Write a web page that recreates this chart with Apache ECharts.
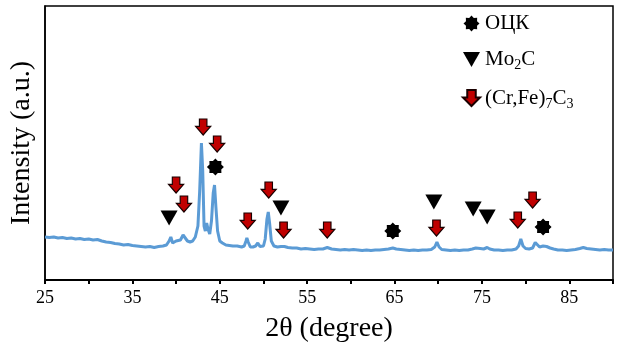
<!DOCTYPE html>
<html><head><meta charset="utf-8">
<script src="https://cdn.jsdelivr.net/npm/echarts@6/dist/echarts.min.js"></script>
<style>html,body{margin:0;padding:0;background:#fff}#c{width:619px;height:356px}</style>
</head><body><div id="c"></div>
<script>
// XRD pattern (2θ in degrees, intensity in arbitrary units)
const twoTheta = [25.0,25.5,26.0,26.5,27.0,27.5,28.0,28.5,29.0,29.5,30.0,30.5,31.0,31.5,32.0,32.5,33.0,33.5,34.0,34.5,35.0,35.5,36.0,36.5,37.0,37.5,38.0,38.5,38.9,39.2,39.4,39.6,39.8,40.0,40.2,40.5,40.8,41.0,41.3,41.6,41.9,42.2,42.5,42.7,42.9,43.05,43.2,43.35,43.5,43.65,43.85,44.05,44.25,44.4,44.55,44.75,45.0,45.3,45.7,46.1,46.5,47.0,47.5,47.8,48.0,48.1,48.25,48.5,48.8,49.1,49.35,49.6,50.0,50.2,50.4,50.55,50.7,50.9,51.2,51.6,52.0,52.2,52.4,52.8,53.3,53.8,54.3,54.8,55.3,55.8,56.3,56.8,57.3,57.8,58.3,58.8,59.3,59.8,60.3,60.8,61.3,61.8,62.3,62.8,63.3,63.8,64.3,64.8,65.2,65.7,66.2,66.7,67.2,67.7,68.2,68.7,69.2,69.6,69.85,70.1,70.4,70.9,71.4,71.9,72.4,72.9,73.4,73.9,74.3,74.5,74.8,75.2,75.6,75.9,76.4,76.9,77.4,77.9,78.4,78.9,79.2,79.45,79.7,80.0,80.4,80.8,81.1,81.3,81.6,82.0,82.4,82.8,83.2,83.7,84.2,84.7,85.2,85.7,86.2,86.6,87.0,87.5,88.0,88.5,89.0,89.5,90.0];
const intensity = [44,43.5,44,43,43.5,42.5,43,42,42.5,41.5,42,41,41.5,40,39,38.5,37.5,37,36,36.5,35.5,35,34.5,34,34.5,33.5,34.5,35,36,40,44,38,39,40,38,41,46,45,40,39,40,44,55,90,138,110,55,50,58,52,47,60,88,96,75,50,40,38,36,35.5,35,35,34,35,40,43,39,34,34,35,38,34.5,35,42,62,69,58,40,35,34,34.5,36.5,34.5,33.5,33,33,32,32.5,32,31.5,32,32,33.5,32,31.5,31,31.5,31,31.5,31,30.5,31,30.5,31,31,31.5,32,33,32,31.5,31,30.5,31,30.5,31,31,31.5,34,39,34,31.5,31,30.5,31,30.5,31,31,32,33,34,32.5,32,33.5,32,31,31,30.5,31,31,32,35,42,35,32.5,32,33,38.5,37,34,35,34.5,33,32,31,31,30.5,31,31.5,32.5,33.5,32.5,32,31.5,31,31.5,31,31];

// Phase markers: [2θ, marker height]
const bccPeaks = [[44.5,114],[64.8,50],[82.0,54]];
const mo2cPeaks = [[39.2,63],[52.0,73],[69.5,79],[74.0,72],[75.6,64]];
const carbidePeaks = [[40.0,96],[40.9,77],[43.1,154],[44.7,137],[48.2,60],[50.6,91],[52.3,51],[57.3,51],[69.8,53],[79.1,61],[80.8,81]];

const xTicks = [25,35,45,55,65,75,85];
const seriesNames = ['ОЦК','Mo2C','(Cr,Fe)7C3'];

const starPath = 'path://M10,0 L12.87,3.07 L17.07,2.93 L16.93,7.13 L20,10 L16.93,12.87 L17.07,17.07 L12.87,16.93 L10,20 L7.13,16.93 L2.93,17.07 L3.07,12.87 L0,10 L3.07,7.13 L2.93,2.93 L7.13,3.07 Z';
const triPath = 'path://M0,0 L16,0 L8,14 Z';
const arrowPath = 'path://M4,0 L12,0 L12,7 L16,7 L8,15 L0,7 L4,7 Z';

const serif = '"Liberation Serif","Times New Roman",serif';
const chart = echarts.init(document.getElementById('c'), null, {renderer:'canvas'});
chart.setOption({
  animation:false,
  backgroundColor:'#fff',
  grid:{left:41,right:6,top:6,bottom:76,show:true,borderColor:'#000',borderWidth:1.5},
  legend:{
    data:seriesNames, orient:'vertical', left:457, top:8, itemGap:15,
    itemWidth:17, itemHeight:16,
    formatter:function(n){
      if(n==='Mo2C') return '{n|Mo}{s|2}{n|C}';
      if(n==='(Cr,Fe)7C3') return '{n|(Cr,Fe)}{s|7}{n|C}{s|3}';
      return '{n|'+n+'}';
    },
    textStyle:{fontFamily:serif,color:'#000',rich:{
      n:{fontFamily:serif,fontSize:21,lineHeight:26,color:'#000'},
      s:{fontFamily:serif,fontSize:14,lineHeight:12,verticalAlign:'bottom',color:'#000'}
    }}
  },
  xAxis:{
    type:'value',min:25,max:90,interval:5,
    name:'2θ (degree)',nameLocation:'middle',nameGap:35,
    nameTextStyle:{fontFamily:serif,fontSize:28,color:'#000'},
    axisLine:{show:true,onZero:false,lineStyle:{color:'#000',width:2}},
    axisTick:{show:true,inside:false,length:4,lineStyle:{color:'#000',width:2}},
    axisLabel:{fontFamily:serif,fontSize:18,color:'#000',margin:9,
      formatter:function(v){return xTicks.indexOf(v)>=0? String(v):'';}},
    splitLine:{show:false}
  },
  yAxis:{
    type:'value',min:1,max:275,
    name:'Intensity (a.u.)',nameLocation:'middle',nameGap:9,
    nameTextStyle:{fontFamily:serif,fontSize:28,color:'#000'},
    axisLine:{show:true,lineStyle:{color:'#000',width:1.5}},
    axisTick:{show:false},axisLabel:{show:false},splitLine:{show:false}
  },
  series:[
    {type:'line',name:'XRD',data:twoTheta.map((x,i)=>[x,intensity[i]]),showSymbol:false,
     lineStyle:{color:'#5b9bd5',width:3},smooth:false,z:2},
    {type:'scatter',name:'ОЦК',data:bccPeaks,symbol:starPath,symbolSize:[17,17],
     itemStyle:{color:'#000',opacity:1},z:3},
    {type:'scatter',name:'Mo2C',data:mo2cPeaks,symbol:triPath,symbolSize:[17,15],
     itemStyle:{color:'#000',opacity:1},z:3},
    {type:'scatter',name:'(Cr,Fe)7C3',data:carbidePeaks,symbol:arrowPath,symbolSize:[15,16],
     itemStyle:{color:'#c00000',borderColor:'#1a0000',borderWidth:1.2,opacity:1},z:3}
  ]
});
</script></body></html>
